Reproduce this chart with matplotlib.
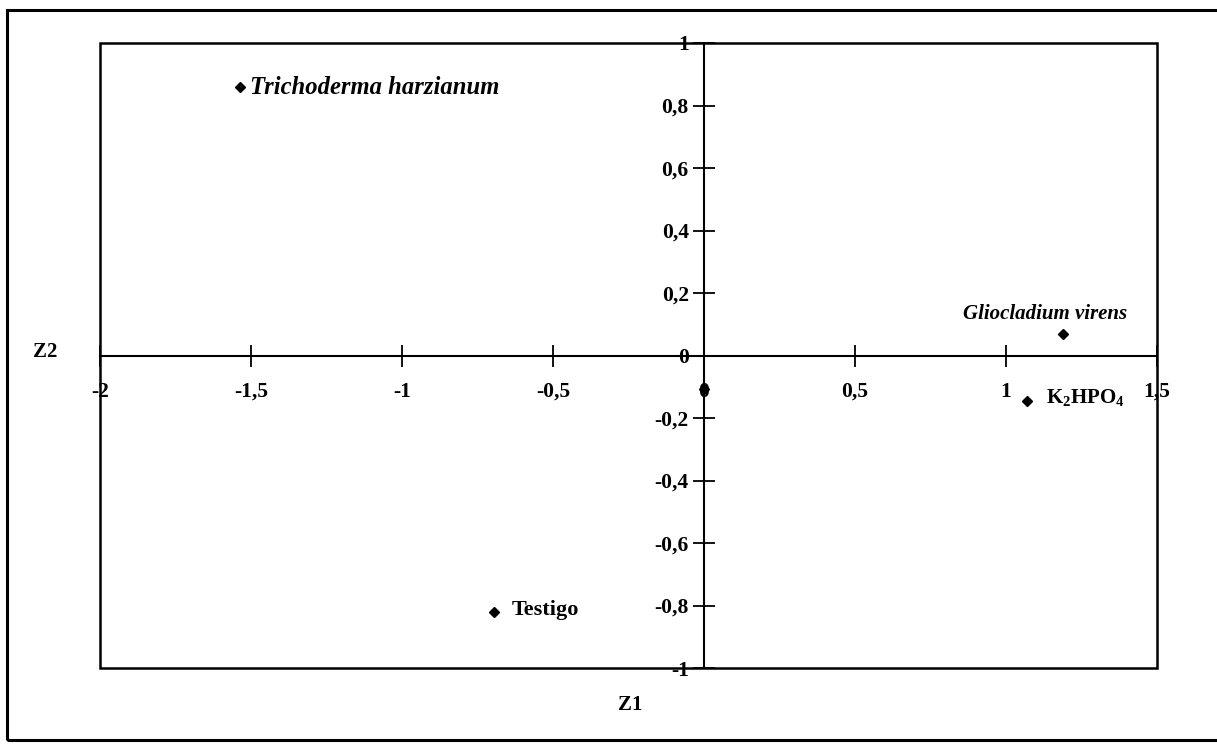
import matplotlib
matplotlib.use("Agg")
import matplotlib.pyplot as plt
from matplotlib.patches import Rectangle

plt.rcParams['font.family'] = ['Liberation Serif', 'DejaVu Serif']
plt.rcParams['font.weight'] = 'bold'
plt.rcParams['mathtext.default'] = 'regular'

# Data
names = ["Trichoderma harzianum", "Gliocladium virens", "K$_2$HPO$_4$", "Testigo", ""]
z1 = [-1.536, 1.19, 1.07, -0.695, 0.0]
z2 = [0.858, 0.07, -0.144, -0.82, -0.106]
italic = [True, True, False, False, False]
xticks = [-2, -1.5, -1, -0.5, 0, 0.5, 1, 1.5]
xticklabels = ["-2", "-1,5", "-1", "-0,5", "0", "0,5", "1", "1,5"]
yticks = [-1, -0.8, -0.6, -0.4, -0.2, 0, 0.2, 0.4, 0.6, 0.8, 1]
yticklabels = ["-1", "-0,8", "-0,6", "-0,4", "-0,2", "0", "0,2", "0,4", "0,6", "0,8", "1"]

W, H = 1217, 744
fig = plt.figure(figsize=(W / 100, H / 100), dpi=100)
ax = fig.add_axes([100 / W, 1 - 668 / H, (1157 - 100) / W, (668 - 43) / H])
ax.set_xlim(-2, 1.5)
ax.set_ylim(-1, 1)

for s in ['top', 'right']:
    ax.spines[s].set_visible(False)
ax.spines['left'].set_position(('data', 0))
ax.spines['bottom'].set_position(('data', 0))
for s in ['left', 'bottom']:
    ax.spines[s].set_linewidth(1.5)
    ax.spines[s].set_zorder(1)

# outer plot-area frame
ax.add_patch(Rectangle((0, 0), 1, 1, transform=ax.transAxes, fill=False,
                       lw=1.8, ec='black', clip_on=False, zorder=2))

ax.set_xticks(xticks)
ax.set_xticklabels(xticklabels, fontsize=15.5, fontweight='bold')
ax.set_yticks(yticks)
ax.set_yticklabels(yticklabels, fontsize=15.5, fontweight='bold')
ax.tick_params(axis='x', direction='inout', length=16, width=1.3, pad=11)
ax.tick_params(axis='y', direction='inout', length=16, width=1.3, pad=3)

ax.plot(z1, z2, linestyle='none', marker='D', markersize=5.5, color='black',
        zorder=5, clip_on=False)

offsets = {
    0: (10, 0, 'left', 17.7),
    1: (-18, 20, 'center', 15),
    2: (19, 3, 'left', 15),
    3: (18, 2, 'left', 16),
}
for i, (name, x, y) in enumerate(zip(names, z1, z2)):
    if not name:
        continue
    dx, dy, ha, fs = offsets[i]
    ax.annotate(name, (x, y), xytext=(dx, dy), textcoords='offset pixels',
                ha=ha, va='center', fontsize=fs, fontweight='bold',
                fontstyle='italic' if italic[i] else 'normal')

fig.text(45 / W, 1 - 352 / H, "Z2", ha='center', va='center', fontsize=15, fontweight='bold')
fig.text(630 / W, 1 - 705 / H, "Z1", ha='center', va='center', fontsize=15, fontweight='bold')

# outer figure border
fig.patches.append(Rectangle((7 / W, 1 - 740 / H), 1.2, (740 - 10) / H,
                             transform=fig.transFigure, fill=False, lw=2.2,
                             ec='black', figure=fig))

fig.savefig("out.png", dpi=100)
